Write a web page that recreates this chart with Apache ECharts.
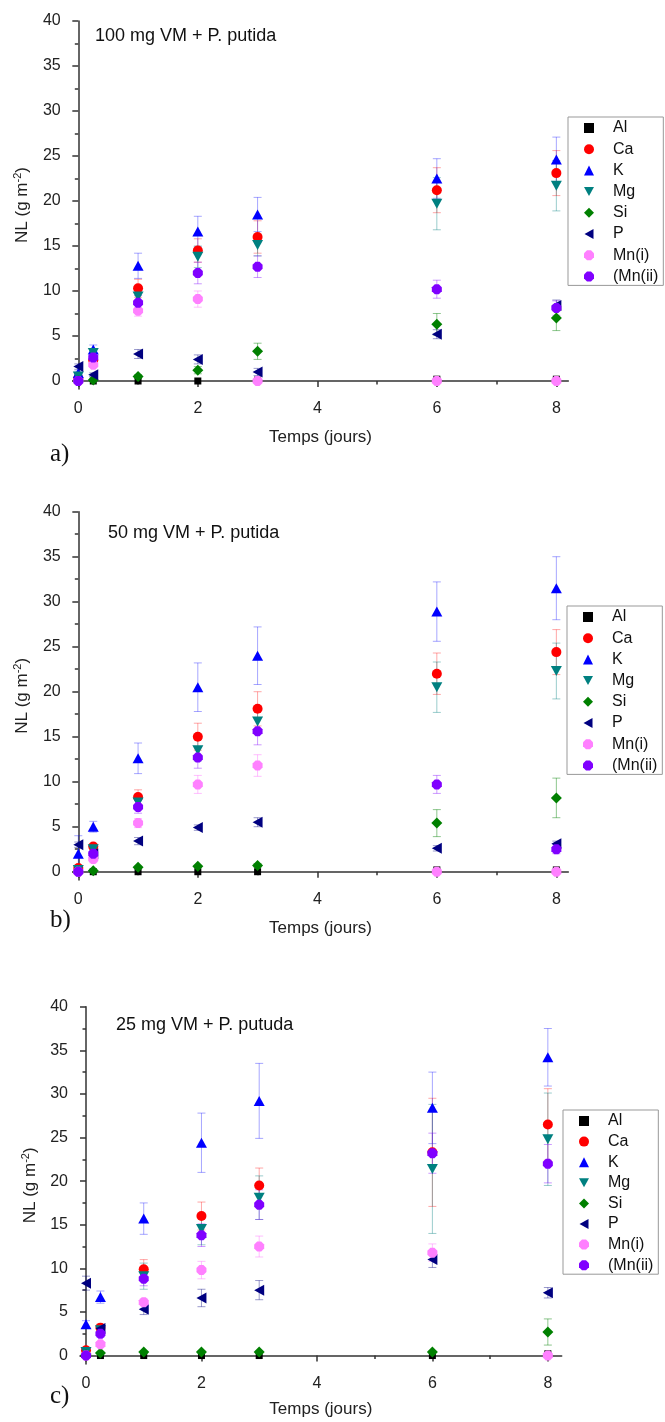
<!DOCTYPE html>
<html>
<head>
<meta charset="utf-8">
<title>NL - Temps (jours)</title>
<script src="https://cdn.jsdelivr.net/npm/echarts@6/dist/echarts.min.js"></script>
<style>
  html, body { margin: 0; padding: 0; background: #fff; }
  #chart { width: 665px; height: 1422px; }
</style>
</head>
<body>
<div id="chart"></div>
<script>
const days = [0, 0.25, 1, 2, 3, 6, 8];
const elements = ['Al', 'Ca', 'K', 'Mg', 'Si', 'P', 'Mn(i)', '(Mn(ii)'];
const xLabelTicks = [0, 2, 4, 6, 8];
const xMinorTicks = [1, 3, 5, 7];
const yLabelTicks = [0, 5, 10, 15, 20, 25, 30, 35, 40];
const yMinorTicks = [2.5, 7.5, 12.5, 17.5, 22.5, 27.5, 32.5, 37.5];
const panelTitles = ['100 mg VM + P. putida', '50 mg VM + P. putida', '25 mg VM + P. putuda'];
const panelLetters = ['a)', 'b)', 'c)'];

// a) 100 mg : one row per element (same order as elements), one column per day
const valuesA = [
  [0, 0, 0, 0, 0.1, 0.2, 0.2],
  [0.3, 2.3, 10.3, 14.5, 16.0, 21.2, 23.1],
  [0.9, 3.5, 12.8, 16.6, 18.5, 22.5, 24.6],
  [0.5, 3.1, 9.4, 13.8, 15.1, 19.7, 21.7],
  [0, 0.1, 0.5, 1.2, 3.3, 6.3, 7.0],
  [1.6, 0.7, 3.0, 2.4, 1.0, 5.2, 8.4],
  [0, 1.8, 7.8, 9.1, 0, 0, 0],
  [0, 2.6, 8.7, 12.0, 12.7, 10.2, 8.1]
];
const errorsA = [
  [0, 0, 0, 0, 0, 0.1, 0.1],
  [0.2, 0.3, 1.0, 1.3, 1.8, 2.5, 2.5],
  [0.2, 0.5, 1.4, 1.7, 1.9, 2.2, 2.5],
  [0.2, 0.4, 1.0, 1.2, 1.2, 2.9, 2.8],
  [0, 0.1, 0.2, 0.4, 0.9, 1.2, 1.4],
  [0.3, 0.2, 0.5, 0.5, 0.4, 0.5, 0.6],
  [0, 0.3, 0.6, 0.9, 0, 0, 0],
  [0, 0.4, 0.8, 1.2, 1.2, 1.0, 0.8]
];

// b) 50 mg
const valuesB = [
  [0, 0, 0, 0, 0, 0.2, 0.2],
  [0.4, 2.8, 8.3, 15.0, 18.1, 22.0, 24.4],
  [2.0, 5.0, 12.6, 20.5, 24.0, 28.9, 31.5],
  [0.2, 2.5, 7.7, 13.5, 16.7, 20.5, 22.3],
  [0, 0.1, 0.5, 0.6, 0.7, 5.4, 8.2],
  [3.0, 2.0, 3.4, 4.9, 5.5, 2.6, 3.1],
  [0, 1.4, 5.4, 9.7, 11.8, 0, 0],
  [0, 2.0, 7.2, 12.7, 15.6, 9.7, 2.5]
];
const errorsB = [
  [0, 0, 0, 0, 0, 0.1, 0.1],
  [0.2, 0.3, 0.8, 1.5, 1.9, 2.3, 2.5],
  [2.0, 0.6, 1.7, 2.7, 3.2, 3.3, 3.5],
  [0.1, 0.3, 0.8, 1.2, 1.3, 2.8, 3.1],
  [0, 0.1, 0.1, 0.1, 0.2, 1.5, 2.2],
  [0.3, 0.3, 0.4, 0.3, 0.5, 0.3, 0.3],
  [0, 0.4, 0.5, 1.0, 1.2, 0, 0],
  [0, 0.3, 0.7, 1.2, 1.5, 1.0, 0.5]
];

// c) 25 mg
const valuesC = [
  [0, 0, 0, 0, 0, 0, 0.2],
  [0.6, 3.2, 9.9, 16.0, 19.5, 23.3, 26.5],
  [3.6, 6.7, 15.7, 24.4, 29.2, 28.4, 34.2],
  [0.4, 2.9, 9.1, 14.5, 18.1, 21.4, 24.8],
  [0.1, 0.3, 0.4, 0.4, 0.4, 0.4, 2.7],
  [8.3, 3.1, 5.3, 6.6, 7.5, 11.0, 7.2],
  [0, 1.3, 6.1, 9.8, 12.5, 11.8, 0],
  [0, 2.5, 8.8, 13.8, 17.3, 23.2, 22.0]
];
const errorsC = [
  [0, 0, 0, 0, 0, 0, 0.1],
  [0.2, 0.4, 1.1, 1.6, 2.0, 6.2, 4.1],
  [0.4, 0.7, 1.8, 3.4, 4.3, 4.1, 3.3],
  [0.2, 0.5, 1.5, 1.8, 2.5, 7.4, 5.3],
  [0, 0.1, 0.1, 0.1, 0.1, 0.1, 1.5],
  [0.8, 0.4, 0.6, 1.0, 1.1, 0.9, 0.6],
  [0, 0.3, 0.4, 1.0, 1.2, 1.0, 0],
  [0, 0.4, 0.8, 1.3, 1.7, 2.3, 2.2]
];

const panelValues = [valuesA, valuesB, valuesC];
const panelErrors = [errorsA, errorsB, errorsC];

// styles
const colors = ['#000000', '#ff0000', '#0000ff', '#008080', '#008000', '#000080', '#ff80ff', '#8000ff'];
const errColors = ['rgba(0,0,0,0.45)', 'rgba(255,0,0,0.35)', 'rgba(0,0,255,0.35)', 'rgba(0,128,128,0.4)',
  'rgba(0,128,0,0.45)', 'rgba(0,0,128,0.4)', 'rgba(255,128,255,0.5)', 'rgba(128,0,255,0.4)'];
const octagon = 'path://M3,0 L7,0 L10,3 L10,7 L7,10 L3,10 L0,7 L0,3 Z';
const symbols = ['rect', 'circle', 'triangle', 'path://M0,0 L10,0 L5,9 Z', 'diamond',
  'path://M0,5 L9,0 L9,10 Z', octagon, octagon];
const symbolSizes = [7, 10, [11, 10], [11, 10], [11, 11], [10, 11], 10, 10];

const font = 'Liberation Sans';
const layout = [
  { left: 72.7, top: 21, width: 495.6, height: 368, xMin: -0.094, xMax: 8.2, yMin: -0.89,
    titleX: 95, titleY: 27, letterY: 442, legendX: 568, legendY: 117, gap: 5.2, nameGap: 40 },
  { left: 72.7, top: 511.7, width: 495.6, height: 368.3, xMin: -0.094, xMax: 8.2, yMin: -0.92,
    titleX: 108, titleY: 524, letterY: 908, legendX: 567, legendY: 606, gap: 5.2, nameGap: 40 },
  { left: 80, top: 1006.7, width: 481.7, height: 357.3, xMin: -0.104, xMax: 8.24, yMin: -0.97,
    titleX: 116, titleY: 1016, letterY: 1384, legendX: 563, legendY: 1110, gap: 4.6, nameGap: 37 }
];

function renderErr(params, api) {
  const x = api.value(0), y = api.value(1), e = api.value(2);
  if (!e) return;
  const hi = api.coord([x, y + e]);
  const lo = api.coord([x, y - e]);
  const w = 4;
  const style = { stroke: api.visual('color'), lineWidth: 1 };
  return {
    type: 'group',
    children: [
      { type: 'line', shape: { x1: hi[0], y1: hi[1], x2: lo[0], y2: lo[1] }, style: style },
      { type: 'line', shape: { x1: hi[0] - w, y1: hi[1], x2: hi[0] + w, y2: hi[1] }, style: style },
      { type: 'line', shape: { x1: lo[0] - w, y1: lo[1], x2: lo[0] + w, y2: lo[1] }, style: style }
    ]
  };
}

const grid = [], xAxis = [], yAxis = [], series = [], title = [], legend = [];
const axisLine = { show: true, lineStyle: { color: '#333', width: 1.5 } };

layout.forEach((L, p) => {
  grid.push({ left: L.left, top: L.top, width: L.width, height: L.height });

  xAxis.push({
    type: 'value', gridIndex: p, min: L.xMin, max: L.xMax, position: 'bottom',
    axisLine: axisLine, splitLine: { show: false },
    axisTick: { show: true, length: 6, customValues: xLabelTicks, lineStyle: { color: '#333', width: 1.5 } },
    axisLabel: { customValues: xLabelTicks, fontFamily: font, fontSize: 16, color: '#222', margin: 12 },
    name: 'Temps (jours)', nameLocation: 'middle', nameGap: L.nameGap,
    nameTextStyle: { fontFamily: font, fontSize: 17, color: '#222' }
  });
  xAxis.push({
    type: 'value', gridIndex: p, min: L.xMin, max: L.xMax, position: 'bottom',
    axisLine: { show: false }, splitLine: { show: false }, axisLabel: { show: false },
    axisTick: { show: true, length: 3.5, customValues: xMinorTicks, lineStyle: { color: '#333', width: 1.5 } }
  });

  yAxis.push({
    type: 'value', gridIndex: p, min: L.yMin, max: 40, position: 'left',
    axisLine: axisLine, splitLine: { show: false },
    axisTick: { show: true, length: 6, customValues: yLabelTicks, lineStyle: { color: '#333', width: 1.5 } },
    axisLabel: { customValues: yLabelTicks, fontFamily: font, fontSize: 16, color: '#222', margin: 12 },
    name: 'NL (g m{sup|-2})', nameLocation: 'middle', nameGap: 40,
    nameTextStyle: {
      fontFamily: font, fontSize: 17, color: '#222',
      rich: { sup: { fontFamily: font, fontSize: 11, color: '#222', padding: [0, 0, 9, 0] } }
    }
  });
  yAxis.push({
    type: 'value', gridIndex: p, min: L.yMin, max: 40, position: 'left',
    axisLine: { show: false }, splitLine: { show: false }, axisLabel: { show: false },
    axisTick: { show: true, length: 3.5, customValues: yMinorTicks, lineStyle: { color: '#333', width: 1.5 } }
  });

  elements.forEach((el, e) => {
    series.push({
      name: el + ' err', type: 'custom', xAxisIndex: 2 * p, yAxisIndex: 2 * p,
      renderItem: renderErr, silent: true, z: 1,
      itemStyle: { color: errColors[e] },
      data: days.map((d, i) => [d, panelValues[p][e][i], panelErrors[p][e][i]])
    });
  });
  elements.forEach((el, e) => {
    series.push({
      name: el, type: 'scatter', xAxisIndex: 2 * p, yAxisIndex: 2 * p, z: 2,
      symbol: symbols[e], symbolSize: symbolSizes[e],
      itemStyle: { color: colors[e], opacity: 1 },
      data: days.map((d, i) => [d, panelValues[p][e][i]])
    });
  });

  title.push({
    text: panelTitles[p], left: L.titleX, top: L.titleY, padding: 0,
    textStyle: { fontFamily: font, fontSize: 18, fontWeight: 'normal', color: '#111' }
  });
  title.push({
    text: panelLetters[p], left: 50, top: L.letterY, padding: 0,
    textStyle: { fontFamily: 'Liberation Serif', fontSize: 25, fontWeight: 'normal', color: '#111' }
  });

  legend.push({
    data: elements, orient: 'vertical', left: L.legendX, top: L.legendY,
    itemWidth: 10, itemHeight: 10, itemGap: L.gap,
    padding: [3, 5, 1, 16], borderColor: '#999', borderWidth: 1,
    textStyle: { fontFamily: font, fontSize: 16, color: '#111', lineHeight: 16, padding: [0, 0, 0, 14] }
  });
});

const chart = echarts.init(document.getElementById('chart'));
chart.setOption({
  animation: false,
  backgroundColor: '#fff',
  title: title,
  legend: legend,
  grid: grid,
  xAxis: xAxis,
  yAxis: yAxis,
  series: series
});
</script>
</body>
</html>
